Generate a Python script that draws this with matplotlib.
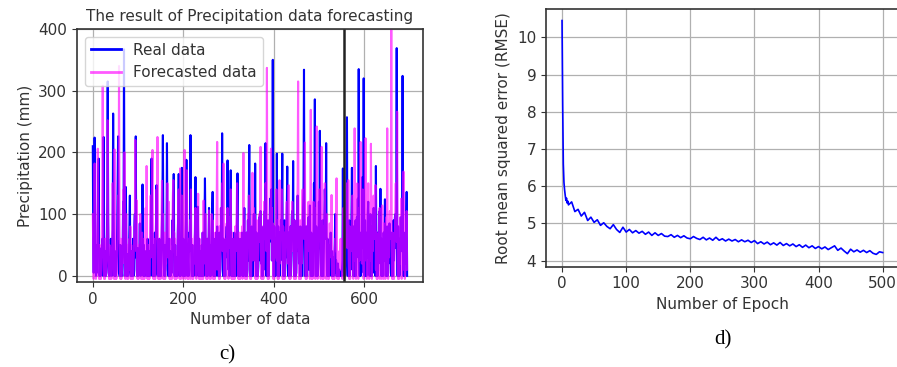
import numpy as np
import matplotlib
matplotlib.use("Agg")
import matplotlib.pyplot as plt

# monthly precipitation (mm), one row per year of 12 values
real_rows = [
    [210, 60, 5, 90, 224, 120, 30, 0, 20, 5, 50, 40],
    [150, 190, 40, 0, 30, 0, 3, 45, 10, 60, 20, 0],
    [225, 70, 10, 0, 40, 0, 5, 40, 120, 315, 90, 15],
    [0, 30, 0, 5, 60, 30, 0, 50, 75, 263, 110, 20],
    [0, 40, 0, 0, 10, 35, 80, 150, 226, 60, 5, 0],
    [0, 50, 0, 20, 5, 0, 30, 120, 60, 367, 100, 0],
    [20, 144, 60, 0, 35, 0, 0, 10, 30, 85, 130, 15],
    [0, 40, 0, 0, 5, 60, 0, 20, 80, 100, 30, 226],
    [60, 10, 0, 45, 0, 0, 5, 40, 85, 20, 0, 30],
    [40, 30, 148, 60, 0, 50, 0, 0, 10, 40, 10, 0],
    [0, 60, 0, 5, 0, 40, 0, 30, 55, 120, 190, 30],
    [0, 50, 0, 0, 10, 70, 0, 20, 100, 147, 50, 5],
    [0, 30, 0, 60, 5, 0, 40, 0, 45, 90, 130, 228],
    [70, 20, 0, 50, 0, 30, 40, 60, 215, 80, 10, 0],
    [0, 60, 0, 40, 0, 10, 20, 5, 90, 50, 120, 165],
    [40, 0, 50, 0, 30, 0, 10, 0, 70, 100, 165, 30],
    [0, 40, 0, 20, 130, 175, 40, 0, 60, 10, 0, 50],
    [0, 60, 90, 188, 60, 0, 40, 5, 0, 70, 40, 100],
    [228, 60, 10, 0, 50, 0, 30, 0, 20, 5, 90, 160],
    [40, 0, 20, 60, 112, 50, 0, 60, 0, 40, 10, 0],
    [0, 50, 0, 70, 10, 0, 40, 80, 158, 90, 10, 0],
    [0, 60, 0, 40, 40, 110, 10, 0, 50, 0, 30, 70],
    [100, 136, 20, 0, 60, 0, 40, 5, 0, 70, 50, 80],
    [20, 0, 50, 0, 70, 0, 10, 50, 110, 60, 231, 60],
    [0, 60, 0, 40, 20, 0, 50, 60, 80, 30, 187, 50],
    [10, 70, 0, 40, 100, 171, 25, 0, 60, 0, 40, 0],
    [0, 70, 0, 50, 10, 0, 30, 100, 166, 25, 0, 60],
    [0, 50, 0, 20, 60, 10, 70, 0, 40, 0, 65, 110],
    [40, 0, 60, 0, 70, 0, 10, 90, 25, 120, 212, 70],
    [0, 60, 0, 80, 0, 40, 0, 65, 100, 25, 50, 182],
    [40, 0, 70, 0, 60, 0, 15, 55, 95, 80, 25, 105],
    [20, 80, 0, 60, 0, 50, 10, 70, 105, 30, 215, 55],
    [0, 60, 0, 90, 20, 0, 70, 55, 125, 60, 90, 140],
    [25, 90, 350, 65, 0, 80, 0, 60, 0, 40, 50, 198],
    [55, 0, 80, 0, 70, 0, 50, 25, 90, 60, 110, 198],
    [30, 0, 60, 0, 90, 0, 40, 30, 70, 105, 177, 25],
    [0, 70, 0, 60, 10, 80, 0, 40, 95, 105, 60, 186],
    [45, 0, 90, 0, 60, 0, 5, 55, 95, 130, 40, 80],
    [20, 70, 0, 80, 0, 50, 0, 0, 70, 110, 140, 334],
    [90, 0, 60, 0, 80, 10, 0, 40, 80, 95, 10, 55],
    [114, 25, 0, 70, 0, 60, 0, 0, 60, 150, 95, 286],
    [70, 0, 80, 0, 60, 0, 10, 60, 120, 45, 235, 55],
    [20, 0, 70, 0, 90, 0, 0, 45, 85, 140, 110, 60],
    [215, 40, 0, 60, 0, 50, 0, 0, 10, 40, 70, 5],
    [0, 40, 0, 30, 0, 0, 20, 50, 100, 5, 25, 0],
    [5, 0, 20, 5, 0, 10, 3, 0, 5, 2, 0, 8],
    [25, 174, 10, 60, 0, 40, 0, 20, 70, 105, 257, 40],
    [0, 70, 0, 90, 0, 50, 20, 70, 95, 175, 10, 55],
    [0, 80, 0, 60, 0, 90, 0, 40, 95, 70, 125, 30],
    [335, 40, 0, 70, 0, 60, 5, 70, 160, 45, 110, 320],
    [60, 0, 90, 0, 70, 0, 60, 30, 100, 120, 70, 20],
    [0, 60, 100, 0, 80, 0, 50, 20, 85, 110, 5, 60],
    [30, 0, 178, 40, 0, 70, 0, 60, 20, 60, 105, 40],
    [141, 10, 0, 60, 0, 40, 0, 70, 25, 65, 124, 40],
    [0, 50, 0, 80, 0, 60, 20, 40, 85, 60, 30, 5],
    [0, 70, 0, 50, 0, 90, 25, 60, 95, 100, 45, 70],
    [369, 55, 0, 80, 0, 60, 0, 10, 60, 95, 40, 70],
    [40, 324, 25, 0, 70, 0, 50, 20, 55, 85, 136, 0],
]

forecast_rows = [
    [100, 40, -5, 60, 182, 90, 20, -5, 40, 0, 30, 206],
    [80, 10, -5, 50, -5, 30, -5, 10, 60, 150, 308, 90],
    [30, -5, 40, -5, 60, 0, 20, 40, 90, 252, 100, 10],
    [-5, 50, -5, 20, 30, -5, 40, 50, 150, 120, 20, -5],
    [205, 60, -5, 40, -5, 10, 40, 80, 130, 60, 340, 90],
    [10, -5, 60, -5, 10, 40, 20, 90, 140, 50, 200, 30],
    [-5, 70, 100, 20, -5, 50, -5, 30, 10, 60, 30, 80],
    [-5, 50, -5, 40, 0, -5, 10, 50, 70, 90, 220, 60],
    [40, 122, 30, -5, 50, -5, 30, 20, 60, 100, 10, -5],
    [30, 70, -5, 40, -5, 60, -5, 10, 60, 110, 40, 178],
    [60, -5, 50, -5, 40, -5, 20, 70, 130, 30, 90, 140],
    [204, 50, -5, 60, -5, 30, -5, 40, 100, 140, 60, 225],
    [70, -5, 40, -5, 10, 60, -5, 30, 80, 154, 60, 100],
    [-5, 50, -5, 70, -5, 30, 20, 60, 110, 150, 30, 80],
    [120, 40, -5, 60, -5, 20, 50, -5, 80, 130, 155, 40],
    [70, -5, 60, -5, 40, -5, 30, 10, 60, 120, 140, 30],
    [-5, 174, 60, -5, 70, 130, 20, 50, -5, 40, 40, 204],
    [60, -5, 40, 110, 171, 40, -5, 60, -5, 30, 20, 90],
    [-5, 140, 30, 60, -5, 50, -5, 40, 20, 60, 70, 110],
    [40, -5, 20, 100, 60, 133, 40, -5, 60, -5, 30, 10],
    [-5, 50, -5, 70, -5, 122, 20, 60, 70, 100, 40, -5],
    [-5, 60, -5, 40, 50, 106, 30, -5, 60, -5, 40, 100],
    [50, 90, -5, 60, -5, 40, -5, 70, 10, 70, 120, 217],
    [55, 10, 60, -5, 80, -5, 25, 110, 60, 90, 150, 40],
    [70, 182, 20, -5, 60, -5, 50, 40, 85, 60, 110, 25],
    [-5, 80, 45, 95, 60, 140, 40, -5, 70, -5, 50, 20],
    [-5, 60, -5, 80, 40, 60, 100, 150, 85, 20, -5, 60],
    [-5, 70, -5, 40, 60, 10, 80, -5, 70, 199, 55, 90],
    [25, -5, 70, -5, 60, -5, 20, 100, 60, 130, 120, 40],
    [-5, 80, -5, 60, 30, 167, 25, 85, 110, 70, 100, 40],
    [-5, 70, -5, 90, -5, 20, 40, 80, 100, 55, 75, 209],
    [45, -5, 80, -5, 70, -5, 30, 120, 90, 60, 150, 140],
    [40, 337, 85, -5, 90, -5, 60, 60, 100, 120, 206, 60],
    [110, 25, 85, -5, 70, -5, 80, 30, 60, 95, 140, 25],
    [80, -5, 90, -5, 60, 155, 20, 70, 70, 110, 140, 95],
    [-5, 80, -5, 70, -5, 30, 60, 70, 100, 120, 80, 20],
    [95, 147, 40, -5, 80, -5, 60, 40, 85, 120, 100, 40],
    [80, -5, 90, -5, 70, -5, 30, 70, 110, 150, 315, 40],
    [-5, 70, -5, 90, -5, 60, 20, 110, 140, 100, 60, 80],
    [110, 216, 25, -5, 80, -5, 60, 60, 100, 120, 40, 85],
    [-5, 110, 269, 55, -5, 70, -5, 40, 120, 100, 60, 110],
    [-5, 85, 40, 242, 70, -5, 60, 60, 110, 140, 85, 40],
    [-5, 95, 209, 25, -5, 80, -5, 55, 100, 150, 80, 20],
    [-5, 70, 100, 25, -5, 50, -5, 30, 85, 55, 40, 30],
    [131, 10, -5, 40, -5, 30, -5, 45, 60, 40, 70, 158],
    [40, -5, 30, 20, -5, 40, 10, 40, 60, 25, 60, 5],
    [-5, 40, 110, 25, 60, -5, 70, 55, 95, 100, 150, 45],
    [85, 155, 25, -5, 80, -5, 60, 40, 60, 95, 130, 80],
    [-5, 100, 55, 239, 25, 70, -5, 30, 110, 150, 95, -5],
    [60, 110, 25, 85, 217, 40, 70, 20, 70, 140, 110, -5],
    [85, 40, 100, 223, 25, 60, -5, 60, 110, 150, 80, -5],
    [55, 100, 25, 214, 70, -5, 80, 40, 110, 130, 60, 60],
    [95, 147, 10, 70, -5, 60, -5, 10, 60, 95, 110, -5],
    [70, 40, 95, -5, 114, 25, 70, -5, 85, 40, 70, -5],
    [45, 95, 10, 239, 40, -5, 60, 30, 80, 105, 60, 85],
    [399, 40, -5, 70, -5, 60, -5, 40, 70, 110, 150, 80],
    [55, 266, 25, -5, 80, -5, 60, 20, 95, 70, 125, -5],
    [60, 100, 40, 169, 10, 60, -5, 10, 40, 80, 105, 10],
]

split_index = 556  # train / test boundary

# training curve
epochs = [0, 1, 2, 3, 4, 5, 6, 7, 8, 9, 10] + list(range(15, 505, 5))
rmse = [10.45, 8.2, 6.6, 6.1, 5.9, 5.75, 5.62, 5.68, 5.55, 5.6, 5.5,
        5.58, 5.32, 5.38, 5.2, 5.3, 5.08, 5.17, 5.03, 5.1, 4.95,
        5.02, 4.92, 4.86, 4.97, 4.84, 4.76, 4.9, 4.77, 4.84, 4.75,
        4.81, 4.74, 4.79, 4.71, 4.77, 4.68, 4.75, 4.68, 4.73, 4.66,
        4.65, 4.7, 4.63, 4.68, 4.62, 4.67, 4.61, 4.59, 4.65, 4.6,
        4.57, 4.63, 4.56, 4.61, 4.55, 4.63, 4.55, 4.59, 4.53, 4.58,
        4.53, 4.57, 4.51, 4.56, 4.51, 4.55, 4.49, 4.54, 4.46, 4.51,
        4.45, 4.5, 4.43, 4.48, 4.42, 4.49, 4.41, 4.46, 4.4, 4.45,
        4.38, 4.43, 4.36, 4.42, 4.35, 4.4, 4.33, 4.38, 4.32, 4.37,
        4.3, 4.35, 4.4, 4.28, 4.34, 4.26, 4.19, 4.31, 4.24, 4.29,
        4.23, 4.28, 4.22, 4.27, 4.2, 4.17, 4.24, 4.22]

real = np.array(real_rows).ravel()
forecast = np.array(forecast_rows).ravel()
idx = np.arange(len(real))

text_col = '#333333'
plt.rcParams['font.family'] = ['DejaVu Sans']
plt.rcParams['font.size'] = 11
plt.rcParams['text.color'] = text_col
plt.rcParams['axes.labelcolor'] = text_col
plt.rcParams['xtick.color'] = text_col
plt.rcParams['ytick.color'] = text_col

fig = plt.figure(figsize=(8.97, 3.67), dpi=100)

# left panel
ax1 = fig.add_axes([0.0858, 0.2316, 0.3857, 0.6894])
ax1.plot(idx, real, color='blue', lw=1.5, label='Real data')
ax1.plot(idx, forecast, color='magenta', lw=1.5, alpha=0.65, label='Forecasted data')
ax1.axvline(split_index, color='#222222', lw=1.8)
ax1.set_xlim(-35, 730)
ax1.set_ylim(-10, 400)
ax1.set_yticks([0, 100, 200, 300, 400])
ax1.set_xticks([0, 200, 400, 600])
ax1.grid(True, color='#b0b0b0', lw=0.9)
ax1.set_title('The result of Precipitation data forecasting', fontsize=11)
ax1.set_xlabel('Number of data')
ax1.set_ylabel('Precipitation (mm)')
leg = ax1.legend(loc='upper left', fontsize=11, framealpha=0.8)
for line in leg.get_lines():
    line.set_linewidth(2)
for s in ax1.spines.values():
    s.set_color('#333333')
    s.set_linewidth(1.2)

# right panel
ax2 = fig.add_axes([0.6087, 0.2733, 0.3932, 0.7022])
ax2.plot(epochs, rmse, color='blue', lw=1.2)
ax2.set_xlim(-25, 525)
ax2.set_ylim(3.84, 10.76)
ax2.set_xticks([0, 100, 200, 300, 400, 500])
ax2.set_yticks([4, 5, 6, 7, 8, 9, 10])
ax2.grid(True, color='#b0b0b0', lw=0.9)
ax2.set_xlabel('Number of Epoch')
ax2.set_ylabel('Root mean squared error (RMSE)')
for s in ax2.spines.values():
    s.set_color('#333333')
    s.set_linewidth(1.2)

fig.text(0.253, 0.033, 'c)', family='Liberation Serif', fontsize=15, color='black',
         ha='center', va='center')
fig.text(0.806, 0.074, 'd)', family='Liberation Serif', fontsize=15, color='black',
         ha='center', va='center')

fig.savefig('out.png', dpi=100)
